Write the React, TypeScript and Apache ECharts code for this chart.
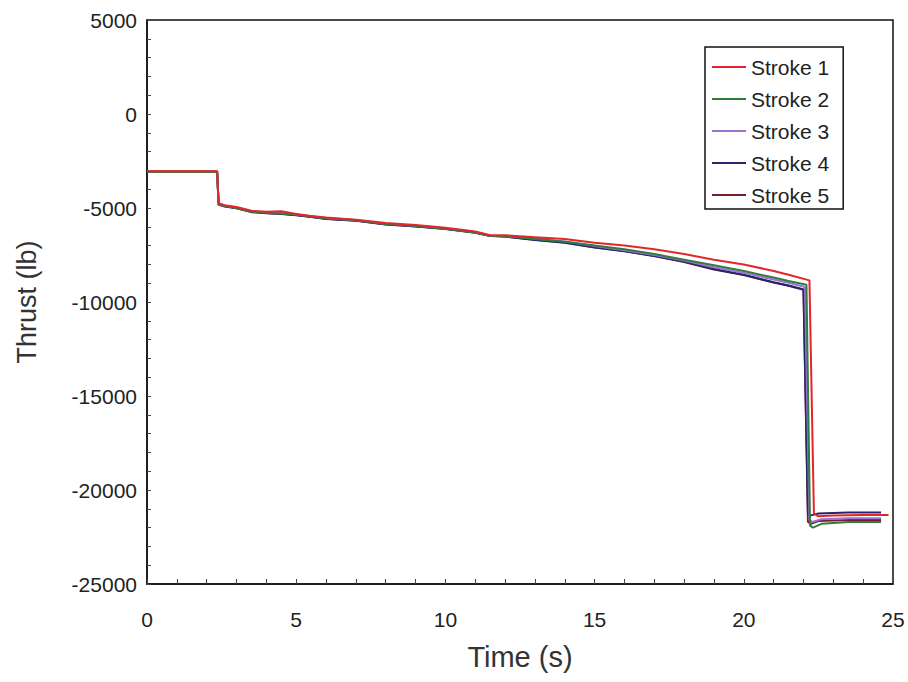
import React, { useEffect, useRef } from "react";
import * as echarts from "echarts";

const seriesNames = ["Stroke 1", "Stroke 2", "Stroke 3", "Stroke 4", "Stroke 5"];
const seriesColors = ["#e3262b", "#2f7d3a", "#9a72d8", "#25256e", "#7a1a2c"];

const timeRamp = [0, 2.35, 2.4, 2.6, 3, 3.5, 4, 4.5, 5, 5.5, 6, 7, 8, 9, 10, 11, 11.5, 12, 13, 14, 15, 16, 17, 18, 19, 20, 21, 21.5];

const stroke1Ramp = [-3050, -3050, -4750, -4850, -4950, -5150, -5200, -5170, -5320, -5420, -5500, -5620, -5800, -5900, -6050, -6250, -6450, -6450, -6550, -6650, -6850, -7000, -7200, -7450, -7750, -8000, -8350, -8550];
const stroke2Ramp = [-3080, -3080, -4800, -4900, -5000, -5200, -5250, -5300, -5350, -5450, -5550, -5650, -5850, -5950, -6100, -6300, -6480, -6500, -6650, -6800, -7000, -7200, -7450, -7750, -8050, -8350, -8700, -8880];
const stroke3Ramp = [-3060, -3060, -4780, -4880, -4980, -5180, -5230, -5270, -5340, -5440, -5540, -5640, -5840, -5940, -6090, -6290, -6470, -6490, -6620, -6780, -7020, -7250, -7500, -7800, -8150, -8450, -8800, -8980];
const stroke4Ramp = [-3070, -3070, -4820, -4920, -5020, -5220, -5280, -5320, -5380, -5480, -5580, -5680, -5880, -5980, -6120, -6320, -6490, -6520, -6700, -6850, -7100, -7300, -7550, -7850, -8250, -8550, -8950, -9120];
const stroke5Ramp = [-3060, -3060, -4800, -4900, -5000, -5200, -5260, -5310, -5370, -5470, -5570, -5670, -5870, -5970, -6110, -6310, -6480, -6510, -6690, -6840, -7090, -7290, -7560, -7870, -8270, -8570, -8970, -9140];

const stroke1TailT = [22.2, 22.35, 22.5, 23, 24, 24.85];
const stroke1TailV = [-8850, -21250, -21400, -21350, -21330, -21330];
const stroke2TailT = [22.1, 22.22, 22.32, 22.6, 23.5, 24.6];
const stroke2TailV = [-9080, -21900, -22000, -21800, -21700, -21700];
const stroke3TailT = [22.05, 22.2, 22.3, 22.6, 23.5, 24.6];
const stroke3TailV = [-9200, -21600, -21700, -21550, -21500, -21500];
const stroke4TailT = [22.0, 22.15, 22.25, 22.5, 23.5, 24.6];
const stroke4TailV = [-9330, -21300, -21350, -21250, -21200, -21200];
const stroke5TailT = [22.0, 22.15, 22.25, 22.5, 23.5, 24.6];
const stroke5TailV = [-9350, -21700, -21800, -21650, -21600, -21600];

const ramps = [stroke1Ramp, stroke2Ramp, stroke3Ramp, stroke4Ramp, stroke5Ramp];
const tailsT = [stroke1TailT, stroke2TailT, stroke3TailT, stroke4TailT, stroke5TailT];
const tailsV = [stroke1TailV, stroke2TailV, stroke3TailV, stroke4TailV, stroke5TailV];

function buildData(i: number): number[][] {
  const pts: number[][] = timeRamp.map((t, k) => [t, ramps[i][k]]);
  tailsT[i].forEach((t, k) => pts.push([t, tailsV[i][k]]));
  return pts;
}

export default function App() {
  const ref = useRef<HTMLDivElement>(null);
  useEffect(() => {
    document.body.style.margin = "0";
    if (!ref.current) return;
    const chart = echarts.init(ref.current, undefined, { renderer: "svg" });
    const font = "Liberation Sans, Arial, sans-serif";
    chart.setOption({
      animation: false,
      backgroundColor: "#ffffff",
      grid: {
        left: 147,
        right: 15,
        top: 20,
        bottom: 98,
        show: true,
        borderColor: "#111",
        borderWidth: 1.5,
        backgroundColor: "transparent",
      },
      legend: {
        orient: "vertical",
        left: 705,
        top: 47,
        data: seriesNames,
        icon: "rect",
        itemWidth: 34,
        itemHeight: 2,
        itemGap: 8,
        itemStyle: { borderWidth: 0 },
        padding: [8, 14, 2, 7],
        borderColor: "#111",
        borderWidth: 1.5,
        backgroundColor: "#fff",
        textStyle: { fontFamily: font, fontSize: 21, color: "#222", lineHeight: 24 },
      },
      xAxis: {
        type: "value",
        min: 0,
        max: 25,
        interval: 1,
        name: "Time (s)",
        nameLocation: "middle",
        nameGap: 58,
        nameTextStyle: { fontFamily: font, fontSize: 29, color: "#333" },
        axisLine: { show: true, onZero: false, lineStyle: { color: "#111", width: 1.5 } },
        axisTick: { show: true, inside: true, length: 5, lineStyle: { color: "#444" } },
        axisLabel: {
          fontFamily: font,
          fontSize: 21,
          color: "#222",
          margin: 25,
          formatter: (v: number) => (v % 5 === 0 ? String(v) : ""),
        },
        splitLine: { show: false },
      },
      yAxis: {
        type: "value",
        min: -25000,
        max: 5000,
        interval: 1000,
        name: "Thrust (lb)",
        nameLocation: "middle",
        nameGap: 107,
        nameTextStyle: { fontFamily: font, fontSize: 27, color: "#333" },
        axisLine: { show: true, onZero: false, lineStyle: { color: "#111", width: 1.5 } },
        axisTick: { show: true, inside: true, length: 4, lineStyle: { color: "#444" } },
        axisLabel: {
          fontFamily: font,
          fontSize: 21,
          color: "#222",
          margin: 10,
          formatter: (v: number) => (v % 5000 === 0 ? String(v) : ""),
        },
        splitLine: { show: false },
      },
      series: seriesNames.map((name, i) => ({
        name,
        type: "line",
        data: buildData(i),
        showSymbol: false,
        symbol: "none",
        color: seriesColors[i],
        lineStyle: { width: 2, color: seriesColors[i] },
        z: 5 - i,
      })),
    });
    return () => chart.dispose();
  }, []);
  return <div ref={ref} style={{ width: 908, height: 682 }} />;
}
